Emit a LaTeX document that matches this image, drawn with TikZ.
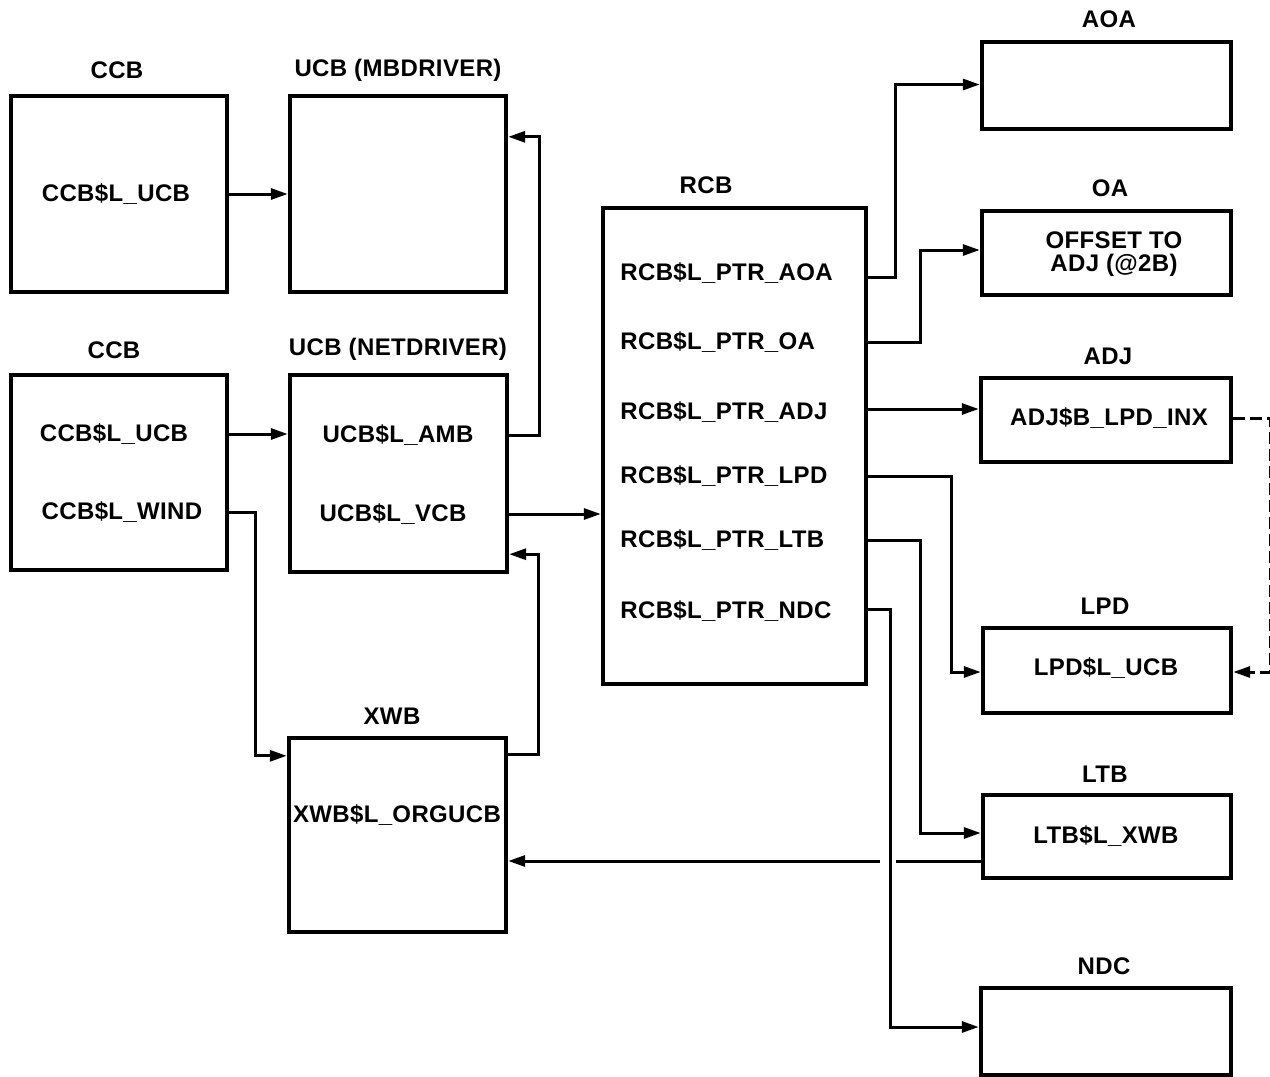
\documentclass[tikz,border=0pt]{standalone}
\usepackage{fontspec}
\setmainfont{Liberation Sans}[LetterSpace=1.5]
\usetikzlibrary{arrows.meta,calc}
\begin{document}
\begin{tikzpicture}[x=0.5pt,y=-0.5pt,
  box/.style={draw=black,line width=2.2pt,inner sep=0pt,fill=none},
  lbl/.style={font=\fontsize{12}{13}\selectfont\bfseries,inner sep=0pt},
  fld/.style={font=\fontsize{12}{13}\selectfont\bfseries,inner sep=0pt},
  arr/.style={line width=1.5pt,-{Triangle[length=8.5pt,width=5.5pt]}},
  ln/.style={line width=1.5pt},
  dsh/.style={line width=1.5pt,dash pattern=on 6pt off 2.5pt,-{Triangle[length=8.5pt,width=5.5pt]}}]
\useasboundingbox (0,0) rectangle (1270,1077);
% boxes
\node[box,minimum width=108pt,minimum height=98pt] (ccba) at (119,194) {};
\node[box,minimum width=108pt,minimum height=98pt] (ucbmb) at (398,194) {};
\node[box,minimum width=108pt,minimum height=97.5pt] (ccbb) at (119,472.5) {};
\node[box,minimum width=108.5pt,minimum height=98.5pt] (ucbnet) at (398.5,473.5) {};
\node[box,minimum width=108.5pt,minimum height=97pt] (xwb) at (397.5,835) {};
\node[box,minimum width=131.5pt,minimum height=238pt] (rcb) at (734.5,446) {};
\node[box,minimum width=124.5pt,minimum height=43.5pt] (aoa) at (1106.5,85.5) {};
\node[box,minimum width=124.5pt,minimum height=42pt] (oa) at (1106.5,253) {};
\node[box,minimum width=125pt,minimum height=42pt] (adj) at (1106,420) {};
\node[box,minimum width=124pt,minimum height=42.5pt] (lpd) at (1107,670.5) {};
\node[box,minimum width=124pt,minimum height=41.5pt] (ltb) at (1107,836.5) {};
\node[box,minimum width=125pt,minimum height=43.5pt] (ndc) at (1106,1031.5) {};
% titles
\node[lbl] (tccba) at (117,70) {CCB};
\node[lbl] (tucbmb) at (398,70) {UCB (MBDRIVER)};
\node[lbl] (tccbb) at (114,350) {CCB};
\node[lbl] (tucbnet) at (398,349) {UCB (NETDRIVER)};
\node[lbl] (txwb) at (392,716) {XWB};
\node[lbl] (trcb) at (706,185) {RCB};
\node[lbl] (taoa) at (1109,19) {AOA};
\node[lbl] (toa) at (1110,188) {OA};
\node[lbl] (tadj) at (1108,356) {ADJ};
\node[lbl] (tlpd) at (1105,606) {LPD};
\node[lbl] (tltb) at (1105,774) {LTB};
\node[lbl] (tndc) at (1104,966) {NDC};
% fields
\node[fld] (fccbaucb) at (116,194) {CCB\$L\_UCB};
\node[fld] (fccbbucb) at (114,434) {CCB\$L\_UCB};
\node[fld] (fwind) at (122,512) {CCB\$L\_WIND};
\node[fld] (famb) at (398,435) {UCB\$L\_AMB};
\node[fld] (fvcb) at (393,514) {UCB\$L\_VCB};
\node[fld] (forg) at (397,815) {XWB\$L\_ORGUCB};
\node[fld,anchor=west] (faoa) at (620,273) {RCB\$L\_PTR\_AOA};
\node[fld,anchor=west] (foa) at (620,342) {RCB\$L\_PTR\_OA};
\node[fld,anchor=west] (fadj) at (620,412) {RCB\$L\_PTR\_ADJ};
\node[fld,anchor=west] (flpd) at (620,476) {RCB\$L\_PTR\_LPD};
\node[fld,anchor=west] (fltb) at (620,540) {RCB\$L\_PTR\_LTB};
\node[fld,anchor=west] (fndc) at (620,611) {RCB\$L\_PTR\_NDC};
\node[fld,align=center,font=\fontsize{12}{11.5}\selectfont\bfseries] (foff) at (1114,254) {OFFSET TO\\ADJ (@2B)};
\node[fld] (finx) at (1109,418) {ADJ\$B\_LPD\_INX};
\node[fld] (flpducb) at (1106,668) {LPD\$L\_UCB};
\node[fld] (fltbxwb) at (1106,836) {LTB\$L\_XWB};
% connectors
\draw[arr] (fccbaucb -| ccba.east) -- (fccbaucb -| ucbmb.west);
\draw[arr] (fccbbucb -| ccbb.east) -- (fccbbucb -| ucbnet.west);
\draw[arr] (famb -| ucbnet.east) -- ++(30,0) |- ($(ucbmb.north east)+(0,43)$);
\draw[arr] (fvcb -| ucbnet.east) -- (fvcb -| rcb.west);
\draw[arr] (fwind -| ccbb.east) -- ++(26,0) |- ($(xwb.north west)+(0,20)$);
\draw[arr] ($(xwb.north east)+(0,19)$) -- ++(30,0) |- ($(ucbnet.south east)+(0,-20)$);
\draw[arr] ($(faoa.west -| rcb.east)+(0,4)$) -- ++(27,0) |- ($(aoa.west)+(0,-1)$);
\draw[arr] (foa -| rcb.east) -- ++(52,0) |- ($(oa.west)+(0,-3)$);
\draw[arr] ($(fadj -| rcb.east)+(0,-3)$) -- ($(fadj -| adj.west)+(0,-3)$);
\draw[arr] (flpd -| rcb.east) -- ++(83,0) |- ($(lpd.west)+(0,1.5)$);
\draw[arr] (fltb -| rcb.east) -- ++(52,0) |- ($(ltb.west)+(0,-3.5)$);
\coordinate (gapr) at (896,861);
\coordinate (gapl) at (880,861);
\draw[ln] (gapr -| ltb.west) -- (gapr);
\draw[arr] (gapl) -- (gapl -| xwb.east);
\draw[arr] ($(fndc -| rcb.east)+(0,-2)$) -- ++(22,0) |- ($(ndc.west)+(0,-4.5)$);
\draw[dsh] ($(adj.east)+(0,-2)$) -- ++(37,0) |- ($(lpd.east)+(0,1.5)$);
\end{tikzpicture}
\end{document}
